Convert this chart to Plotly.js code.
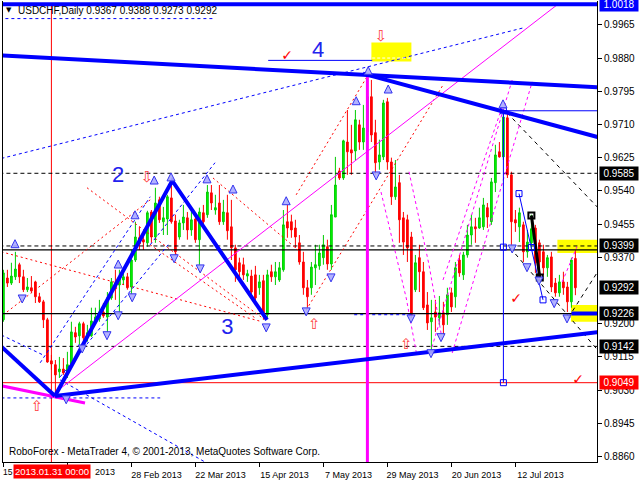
<!DOCTYPE html>
<html><head><meta charset="utf-8">
<script src="https://cdn.plot.ly/plotly-3.0.1.min.js"></script>
<style>html,body{margin:0;padding:0;background:#fff;}#chart{width:640px;height:480px;}</style>
</head><body><div id="chart"></div>
<script>
// ---------------- data ----------------
const symbolName = "USDCHF,Daily";
const lastOHLC = [0.9367, 0.9388, 0.9273, 0.9292];
const tickBars = [0,16,32,48,64,80,96,112,128];
const tickDates = ["15 Jan 2013","6 Feb 2013","28 Feb 2013","22 Mar 2013","15 Apr 2013","7 May 2013","29 May 2013","20 Jun 2013","12 Jul 2013"];
const coveredTickText = ["15", "2013"];   // parts of the first two date labels left visible beside the cursor label
const priceTicks = [0.8860,0.8945,0.9030,0.9115,0.9200,0.9370,0.9455,0.9540,0.9625,0.9710,0.9795,0.9880,0.9965];
const cursorBar = 12, cursorLabel = "2013.01.31 00:00";

const open = [
0.9210,0.9317,0.9304,0.9320,0.9351,0.9320,0.9287,0.9292,0.9307,0.9269,
0.9256,0.9210,0.9105,0.9095,0.9077,0.9084,0.9077,0.9095,0.9177,0.9169,
0.9200,0.9166,0.9169,0.9205,0.9212,0.9230,0.9217,0.9266,0.9304,0.9299,
0.9312,0.9320,0.9294,0.9363,0.9420,0.9415,0.9407,0.9486,0.9422,0.9517,
0.9461,0.9468,0.9522,0.9463,0.9422,0.9458,0.9471,0.9440,0.9468,0.9415,
0.9484,0.9479,0.9535,0.9491,0.9509,0.9461,0.9484,0.9448,0.9394,0.9356,
0.9351,0.9322,0.9322,0.9325,0.9292,0.9310,0.9223,0.9333,0.9320,0.9312,
0.9338,0.9461,0.9461,0.9445,0.9407,0.9358,0.9292,0.9292,0.9343,0.9348,
0.9369,0.9397,0.9353,0.9473,0.9591,0.9573,0.9665,0.9645,0.9642,0.9709,
0.9665,0.9691,0.9781,0.9689,0.9614,0.9627,0.9768,0.9614,0.9525,0.9561,
0.9471,0.9466,0.9422,0.9287,0.9369,0.9333,0.9248,0.9205,0.9230,0.9215,
0.9228,0.9223,0.9279,0.9269,0.9363,0.9325,0.9376,0.9427,0.9448,0.9445,
0.9448,0.9497,0.9461,0.9561,0.9640,0.9627,0.9727,0.9581,0.9466,0.9448,
0.9453,0.9384,0.9407,0.9445,0.9407,0.9384,0.9343,0.9371,0.9304,0.9279,
0.9307,0.9294,0.9256,0.9367];
const high = [
0.9338,0.9338,0.9356,0.9384,0.9356,0.9338,0.9317,0.9322,0.9310,0.9279,
0.9261,0.9215,0.9120,0.9107,0.9115,0.9112,0.9128,0.9205,0.9192,0.9205,
0.9205,0.9197,0.9241,0.9241,0.9261,0.9253,0.9281,0.9317,0.9338,0.9338,
0.9338,0.9330,0.9389,0.9461,0.9448,0.9433,0.9489,0.9491,0.9548,0.9525,
0.9499,0.9530,0.9563,0.9479,0.9466,0.9504,0.9486,0.9491,0.9481,0.9497,
0.9504,0.9555,0.9555,0.9530,0.9555,0.9517,0.9530,0.9517,0.9402,0.9369,
0.9369,0.9338,0.9338,0.9348,0.9325,0.9325,0.9338,0.9351,0.9358,0.9358,
0.9491,0.9504,0.9479,0.9466,0.9427,0.9384,0.9312,0.9358,0.9402,0.9402,
0.9427,0.9415,0.9504,0.9627,0.9599,0.9671,0.9747,0.9709,0.9747,0.9722,
0.9760,0.9837,0.9824,0.9722,0.9671,0.9773,0.9778,0.9625,0.9619,0.9581,
0.9486,0.9479,0.9435,0.9376,0.9402,0.9358,0.9281,0.9261,0.9261,0.9271,
0.9256,0.9292,0.9292,0.9358,0.9376,0.9384,0.9453,0.9479,0.9471,0.9497,
0.9522,0.9509,0.9573,0.9658,0.9665,0.9747,0.9740,0.9589,0.9491,0.9497,
0.9461,0.9440,0.9479,0.9453,0.9415,0.9402,0.9376,0.9384,0.9317,0.9325,
0.9333,0.9307,0.9369,0.9388];
const low = [
0.9205,0.9294,0.9299,0.9312,0.9304,0.9281,0.9281,0.9279,0.9253,0.9253,
0.9189,0.9100,0.9082,0.9023,0.9061,0.9069,0.9061,0.9092,0.9151,0.9146,
0.9151,0.9154,0.9166,0.9200,0.9205,0.9215,0.9179,0.9261,0.9261,0.9223,
0.9299,0.9287,0.9276,0.9358,0.9389,0.9389,0.9397,0.9407,0.9407,0.9458,
0.9427,0.9427,0.9456,0.9376,0.9415,0.9440,0.9415,0.9425,0.9407,0.9351,
0.9453,0.9471,0.9491,0.9479,0.9453,0.9453,0.9415,0.9363,0.9307,0.9312,
0.9312,0.9307,0.9271,0.9256,0.9274,0.9210,0.9215,0.9307,0.9299,0.9307,
0.9333,0.9420,0.9420,0.9394,0.9351,0.9274,0.9241,0.9274,0.9299,0.9338,
0.9351,0.9338,0.9338,0.9473,0.9568,0.9568,0.9581,0.9581,0.9619,0.9645,
0.9645,0.9671,0.9665,0.9581,0.9594,0.9619,0.9594,0.9504,0.9517,0.9407,
0.9376,0.9358,0.9215,0.9281,0.9281,0.9235,0.9184,0.9128,0.9179,0.9197,
0.9171,0.9197,0.9230,0.9241,0.9320,0.9312,0.9369,0.9402,0.9407,0.9443,
0.9440,0.9445,0.9453,0.9537,0.9625,0.9619,0.9573,0.9402,0.9435,0.9409,
0.9358,0.9369,0.9389,0.9330,0.9312,0.9325,0.9320,0.9281,0.9269,0.9269,
0.9274,0.9230,0.9241,0.9273];
const close = [
0.9330,0.9304,0.9322,0.9340,0.9320,0.9287,0.9294,0.9284,0.9269,0.9256,
0.9210,0.9102,0.9097,0.9069,0.9084,0.9074,0.9095,0.9179,0.9166,0.9200,
0.9164,0.9177,0.9207,0.9217,0.9230,0.9220,0.9266,0.9307,0.9289,0.9317,
0.9320,0.9292,0.9363,0.9422,0.9404,0.9409,0.9484,0.9422,0.9509,0.9466,
0.9471,0.9525,0.9461,0.9384,0.9458,0.9473,0.9440,0.9466,0.9415,0.9486,
0.9461,0.9537,0.9509,0.9497,0.9461,0.9486,0.9438,0.9394,0.9338,0.9333,
0.9325,0.9328,0.9281,0.9266,0.9307,0.9223,0.9325,0.9320,0.9333,0.9343,
0.9453,0.9445,0.9440,0.9422,0.9358,0.9292,0.9269,0.9345,0.9351,0.9381,
0.9402,0.9353,0.9479,0.9555,0.9573,0.9668,0.9640,0.9637,0.9722,0.9665,
0.9701,0.9781,0.9683,0.9612,0.9632,0.9765,0.9614,0.9525,0.9550,0.9466,
0.9409,0.9394,0.9223,0.9356,0.9333,0.9241,0.9202,0.9215,0.9217,0.9228,
0.9197,0.9274,0.9243,0.9343,0.9330,0.9376,0.9427,0.9448,0.9443,0.9471,
0.9504,0.9473,0.9563,0.9632,0.9627,0.9729,0.9581,0.9461,0.9458,0.9484,
0.9384,0.9409,0.9443,0.9356,0.9358,0.9343,0.9369,0.9294,0.9279,0.9307,
0.9292,0.9256,0.9363,0.9292];

// horizontal levels
const dashedLevels = [0.9585, 0.9399, 0.9142];
const solidLevels = [0.9389, 0.9226];
const redLevel = 0.9049;
const topLevel = 1.0018;
const blackLabelLevels = [0.9585, 0.9399, 0.9292, 0.9226, 0.9142];
const levelSpan = [-1, 150];

// drawn objects: x in bar number, y in price (null separates segments)
const thickBlueX = [-1,149,null, 89.9,149.2,null, 12.9,149.2,null, -1,12.9,null, 12.9,42.2,65.9,null, 142,150];
const thickBlueY = [0.9887,0.9805,null, 0.9840,0.9676,null, 0.9015,0.9179,null, 0.9146,0.9015,null, 0.9015,0.9566,0.9210,null, 0.9226,0.9226];
const thinBlueX = [66.2,92.2,null, 124.9,150,null, 125,125,null, 128.9,132,134.9];
const thinBlueY = [0.9874,0.9874,null, 0.9745,0.9745,null, 0.9745,0.9049,null, 0.9533,0.9395,0.9261];
const blueSquareX = [125,125,125,128.9,132,134.9];
const blueSquareY = [0.9745,0.9396,0.9049,0.9533,0.9395,0.9261];
const blackSquareX = [132,134.1];
const blackSquareY = [0.9477,0.9318];
const blueDashX = [-0.5,129.9,null, -1,52.4,null, 9.2,36.7,null, 14.2,41.2,null, 36.7,52.9,null, 14.2,50.4,null, -0.5,39.2,null, -0.5,9.9,null, 87.7,101.9];
const blueDashY = [0.9623,0.9957,null, 0.9981,0.9981,null, 0.9100,0.9525,null, 0.9064,0.9402,null, 0.9402,0.9612,null, 0.9056,0.8846,null, 0.9010,0.9010,null, 0.9171,0.9120,null, 0.9223,0.9223];
const blackDashX = [125.9,149.2,null, 126.7,149.2,null, 141.2,149.2];
const blackDashY = [0.9740,0.9491,null, 0.9394,0.9125,null, 0.9215,0.9343];
const magentaDashX = [94.4,100.7,103.2,null, 101.4,106.4,109.7,null, 106.7,127.2,null, 112.2,132.2,null, 109.9,124.7,null, 139.7,143.4];
const magentaDashY = [0.9537,0.9266,0.9128,null, 0.9589,0.9351,0.9159,null, 0.9125,0.9824,null, 0.9125,0.9819,null, 0.9312,0.9755,null, 0.9307,0.9397];
const redDotX = [-0.5,64.7,null, 20.9,64.7,null, 0.9,36.7,null, 52.4,74.2,null, 75.7,109.9,null, 73.2,90.9,null, 36.7,62.9];
const redDotY = [0.9384,0.9205,null, 0.9548,0.9215,null, 0.9230,0.9517,null, 0.9573,0.9384,null, 0.9235,0.9811,null, 0.9530,0.9832,null, 0.9402,0.9215];
const magentaThinX = [13.2,138.4];
const magentaThinY = [0.9026,1.0016];
const magentaThickX = [91,91,null, -0.5,20.4];
const magentaThickY = [0.9842,0.8830,null, 0.9041,0.8997];
const blackThickX = [132,134.1];
const blackThickY = [0.9477,0.9318];
const whiteDashX = [92.2,101.7];
const whiteDashY = [0.9880,0.9880];

// yellow zones
const zoneX0 = [92.0,138.5,141.9];
const zoneX1 = [102.0,150,150];
const zoneY0 = [0.9871,0.9381,0.9205];
const zoneY1 = [0.9920,0.9415,0.9248];

// fractal arrows
const upArrowX = [2.9,28.7,32.9,37.7,41.9,50.9,57.4,70.7,88.2,91.2,96.2,124.9];
const upArrowY = [0.9415,0.9363,0.9489,0.9578,0.9586,0.9581,0.9555,0.9525,0.9781,0.9858,0.9811,0.9773];
const downArrowX = [4.7,15.7,19.7,25.9,28.7,32.2,42.7,49.2,65.7,75.7,81.9,93.2,101.9,106.9,109.4,127.2,130.9,133.9,137.7,140.9];
const downArrowY = [0.9253,0.8995,0.9125,0.9159,0.9210,0.9256,0.9356,0.9330,0.9179,0.9220,0.9307,0.9568,0.9202,0.9113,0.9154,0.9381,0.9333,0.9299,0.9241,0.9202];

// red hollow arrows and check marks
const redUpX = [8.4,77.7,100.7];
const redUpY = [0.8985,0.9197,0.9146];
const redDownX = [35.9,94.4];
const redDownY = [0.9573,0.9934];
const checkX = [70.9,128.2,143.7];
const checkY = [0.9883,0.9261,0.9054];

// wave labels
const waveText = ["2","3","4"];
const waveX = [28.7,56.0,78.7];
const waveY = [0.9576,0.9189,0.9896];

// ---------------- build ----------------
const barIndex = open.map((_, k) => k);
const FONT = "Liberation Sans, Arial, sans-serif";

function lines(x, y, color, width, dash) {
  return {type:'scatter', mode:'lines', x:x, y:y, connectgaps:false,
          line:{color:color, width:width, dash:dash || 'solid'}, hoverinfo:'skip'};
}
function levelTrace(levels, color, width, dash) {
  const x = [], y = [];
  levels.forEach(v => { x.push(levelSpan[0], levelSpan[1], null); y.push(v, v, null); });
  return lines(x, y, color, width, dash);
}

const traces = [
  {type:'candlestick', x:barIndex, open:open, high:high, low:low, close:close,
   increasing:{line:{color:'#00cc00', width:1}, fillcolor:'#00ff00'},
   decreasing:{line:{color:'#ff0000', width:1}, fillcolor:'#ff0000'},
   whiskerwidth:0, hoverinfo:'skip'},
  lines([cursorBar, cursorBar], [0.8800, 1.0015], '#ff0000', 1),
  levelTrace(dashedLevels, '#000000', 1, '4px,3px'),
  levelTrace(solidLevels, '#000000', 1.2),
  levelTrace([redLevel], '#ff0000', 1),
  lines(redDotX, redDotY, '#ff0000', 1, '2px,3px'),
  lines(blueDashX, blueDashY, '#0000ff', 1, '3px,3px'),
  lines(blackDashX, blackDashY, '#000000', 1, '4px,4px'),
  lines(magentaDashX, magentaDashY, '#ff00ff', 1, '3px,3px'),
  lines(magentaThinX, magentaThinY, '#ff00ff', 1),
  lines(magentaThickX, magentaThickY, '#ff00ff', 3),
  lines(thinBlueX, thinBlueY, '#0000ff', 1),
  lines(blackThickX, blackThickY, '#000000', 3),
  lines(whiteDashX, whiteDashY, '#ffffff', 1, '3px,2px'),
  lines(thickBlueX, thickBlueY, '#0000ff', 4),
  levelTrace([topLevel], '#0000ff', 4),
  {type:'scatter', mode:'markers', x:blueSquareX, y:blueSquareY, hoverinfo:'skip',
   marker:{symbol:'square-open', size:6, color:'#0000ff', line:{width:1}}},
  {type:'scatter', mode:'markers', x:blackSquareX, y:blackSquareY, hoverinfo:'skip',
   marker:{symbol:'square-open', size:6, color:'#000000', line:{width:2}}},
  {type:'scatter', mode:'markers', x:upArrowX, y:upArrowY, hoverinfo:'skip',
   marker:{symbol:'arrow-up', size:8, color:'rgba(170,170,255,0.9)', line:{color:'#3333ee', width:1}}},
  {type:'scatter', mode:'markers', x:downArrowX, y:downArrowY, hoverinfo:'skip',
   marker:{symbol:'arrow-down', size:8, color:'rgba(170,170,255,0.9)', line:{color:'#3333ee', width:1}}},
  {type:'scatter', mode:'text', x:redUpX, y:redUpY, text:redUpX.map(() => '⇧'), hoverinfo:'skip',
   textfont:{family:'DejaVu Sans', size:15, color:'#ff3b3b'}},
  {type:'scatter', mode:'text', x:redDownX, y:redDownY, text:redDownX.map(() => '⇩'), hoverinfo:'skip',
   textfont:{family:'DejaVu Sans', size:15, color:'#ff3b3b'}},
  {type:'scatter', mode:'text', x:checkX, y:checkY, text:checkX.map(() => '✓'), hoverinfo:'skip',
   textfont:{family:'DejaVu Sans', size:14, color:'#ff0000'}},
  {type:'scatter', mode:'text', x:waveX, y:waveY, text:waveText, hoverinfo:'skip',
   textfont:{family:FONT, size:22, color:'#2222ee'}}
];

const shapes = zoneX0.map((x0, k) => ({type:'rect', xref:'x', yref:'y', layer:'below',
  x0:x0, x1:zoneX1[k], y0:zoneY0[k], y1:zoneY1[k], fillcolor:'#ffff00', line:{width:0}}));

function priceBox(v, bg) {
  return {xref:'paper', yref:'y', x:1, y:v, xanchor:'left', yanchor:'middle', xshift:2,
          text:v.toFixed(4), showarrow:false, bgcolor:bg, borderpad:1, width:36, align:'center',
          font:{family:FONT, size:10, color:'#ffffff'}};
}
const annotations = blackLabelLevels.map(v => priceBox(v, '#000000'));
annotations.push(priceBox(redLevel, '#ff0000'));
annotations.push(priceBox(topLevel, '#0000ff'));
// visible remnants of the first two date labels (rest hidden under the cursor label)
annotations.push({xref:'x', yref:'paper', x:tickBars[0], y:0, xanchor:'left', yanchor:'top', yshift:-3, xshift:-2,
  text:coveredTickText[0], showarrow:false, font:{family:FONT, size:8.5, color:'#000'}});
annotations.push({xref:'x', yref:'paper', x:tickBars[1], y:0, xanchor:'left', yanchor:'top', yshift:-3, xshift:26,
  text:coveredTickText[1], showarrow:false, font:{family:FONT, size:9, color:'#000'}});
annotations.push({xref:'x', yref:'paper', x:cursorBar, y:0, yanchor:'top', yshift:-2, xanchor:'center', xshift:1,
  text:cursorLabel, showarrow:false, bgcolor:'#ff0000', borderpad:1,
  font:{family:FONT, size:9.5, color:'#ffffff'}});
annotations.push({xref:'paper', yref:'paper', x:0.010, y:0.980, xanchor:'center', yanchor:'middle',
  text:'▼', showarrow:false, font:{family:'DejaVu Sans', size:7, color:'#000000'}});
annotations.push({xref:'paper', yref:'paper', x:0.0067, y:0.022, xanchor:'left', yanchor:'middle',
  text:'RoboForex - MetaTrader 4, © 2001-2013, MetaQuotes Software Corp.', showarrow:false,
  font:{family:FONT, size:10, color:'#000000'}});

const layout = {
  width:640, height:480,
  margin:{l:3, r:43, t:1, b:18, pad:0},
  paper_bgcolor:'#ffffff', plot_bgcolor:'#ffffff',
  showlegend:false, hovermode:false, boxgap:0.4,
  title:{text: symbolName + ' ' + lastOHLC.map(v => v.toFixed(4)).join(' '),
         x:18/640, xanchor:'left', y:1-10/480, yanchor:'middle',
         font:{family:FONT, size:10, color:'#000000'}},
  xaxis:{range:[-0.1,148.4], tickmode:'array', tickvals:tickBars,
         ticktext:tickDates.map((t, k) => k < coveredTickText.length ? '' : t),
         ticks:'outside', ticklen:4, tickcolor:'#000', ticklabelshift:25,
         tickfont:{family:FONT, size:9, color:'#000'}, showgrid:false, zeroline:false,
         showline:true, linecolor:'#000', linewidth:1, mirror:false,
         rangeslider:{visible:false}, fixedrange:true},
  yaxis:{range:[0.8846,1.0026], side:'right', tickmode:'array', tickvals:priceTicks, tickformat:'.4f',
         ticks:'outside', ticklen:4, tickcolor:'#000',
         tickfont:{family:FONT, size:10, color:'#000'}, showgrid:false, zeroline:false,
         showline:true, linecolor:'#000', linewidth:1, mirror:true, fixedrange:true},
  shapes:shapes, annotations:annotations
};

Plotly.newPlot('chart', traces, layout, {staticPlot:true, displayModeBar:false});
</script></body></html>
